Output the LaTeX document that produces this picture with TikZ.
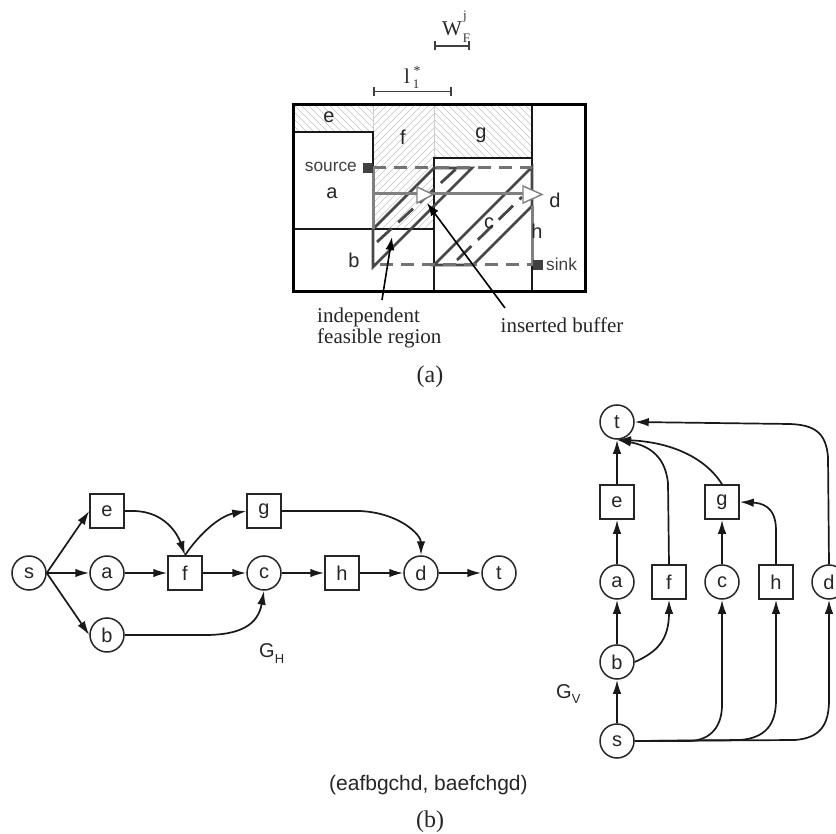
\documentclass[tikz,border=0pt]{standalone}
\usepackage{fontspec}
\setmainfont{Liberation Serif}
\setsansfont{Liberation Sans}
\usetikzlibrary{arrows.meta}
\tikzset{
  x=1pt,y=-1pt,
  lab/.style={inner sep=0pt,font=\sffamily\fontsize{20}{20}\selectfont,text=black!85},
  smalllab/.style={lab,font=\sffamily\fontsize{17.3}{17.3}\selectfont,text=black!75},
  rlab/.style={inner sep=0pt,font=\fontsize{21}{21}\selectfont,text=black!85},
  script/.style={inner sep=0pt,font=\fontsize{13}{13}\selectfont,text=black!80},
  vert/.style={draw=black!85,line width=1.5pt,fill=white,font=\sffamily\fontsize{20}{20}\selectfont,inner sep=0pt,text=black!85},
  circ/.style={vert,circle,minimum size=34pt},
  squ/.style={vert,rectangle,minimum size=34pt},
  edge/.style={draw=black!90,line width=1.7pt,-{Latex[length=14pt,width=8.5pt]}},
  wall/.style={draw=black!90,line width=1.4pt},
  hatch/.style={draw=black!24,line width=.6pt},
  pathdash/.style={draw=black!55,line width=3pt,dash pattern=on 13pt off 8pt},
  grayline/.style={draw=black!50,line width=3pt},
  dia/.style={draw=black!72,line width=2.8pt},
  diadash/.style={draw=black!72,line width=2.8pt,dash pattern=on 20pt off 9pt},
  dim/.style={draw=black!75,line width=1.7pt,{Bar[width=9pt]}-{Bar[width=9pt]}},
  tri/.style={draw=black!50,fill=white,line width=1.4pt},
  pin/.style={draw=black,line width=1.6pt,-{Latex[length=13pt,width=9pt]}},
  term/.style={fill=black!75,minimum size=10pt,inner sep=0pt},
}
\begin{document}
\begin{tikzpicture}
\useasboundingbox (0,0) rectangle (836,834);
% hatching
\begin{scope}
  \clip (293,105) rectangle (373,132);
  \foreach \k in {0,7,...,133} \draw[hatch] (293+\k-27,105) -- (293+\k,132);
\end{scope}
\begin{scope}
  \clip (373,105) rectangle (434,229);
  \foreach \k in {0,7,...,189} \draw[hatch] (373+\k,105) -- (373+\k-124,229);
\end{scope}
\begin{scope}
  \clip (434,105) rectangle (532,158);
  \foreach \k in {-56,-49,...,105} \draw[hatch] (434+\k,105) -- (434+\k+53,158);
\end{scope}
\draw[draw=black!20,line width=1pt] (373,105) -- (373,132) (434,105) -- (434,158);
% walls
\draw[wall] (293,132) -- (373,132) -- (373,229);
\draw[wall] (293,229) -- (434,229);
\draw[wall] (434,292) -- (434,158) -- (532,158);
\draw[wall] (532,105) -- (532,292);
% feasible regions
\draw[dia] (434,168) -- (373,229) -- (373,267) -- (472,168) -- cycle;
\draw[dia] (532,167) -- (434,265) -- (473,265) -- (532,206) -- cycle;
\draw[diadash] (377,242) -- (457,168);
\draw[diadash] (457,260) -- (522,197);
% route
\draw[pathdash] (373,167.5) -- (532,167.5);
\draw[pathdash] (380,265) -- (533,265);
\draw[grayline] (373,167.5) -- (373,229);
\draw[grayline] (532,206) -- (532,265);
\draw[grayline] (373,193.5) -- (525,193.5);
\draw[tri] (417,187) -- (433,194.5) -- (417,203) -- cycle;
\draw[tri] (523,186) -- (542,194.5) -- (523,203) -- cycle;
\node[term] (src) at (367.5,168) {};
\node[term] (snk) at (537.5,265) {};
\draw[draw=black,line width=3pt] (293,105) rectangle (585,292);
% labels of panel a
\node[lab] (le) at (329,117) {e};
\node[lab] (lf) at (403,137) {f};
\node[lab] (lg) at (481,135) {g};
\node[lab] (la) at (332,193) {a};
\node[lab] (lb) at (354,260) {b};
\node[lab] (lc) at (489,223) {c};
\node[lab] (ld) at (555,200) {d};
\node[lab] (lh) at (537,231) {h};
\node[smalllab,anchor=east] (lsrc) at (357,167) {source};
\node[smalllab,anchor=west] (lsnk) at (546,264) {sink};
% dimensions
\coordinate (w1) at (434,46); \coordinate (w2) at (470,46);
\draw[dim] (w1) -- (w2);
\coordinate (l1) at (373,91.5); \coordinate (l2) at (452,91.5);
\draw[dim] (l1) -- (l2);
\node[rlab,anchor=base] (wl) at (452,36) {W};
\node[script] (wsub) at (466.5,38) {F};
\node[script] (wsup) at (465,17) {j};
\node[rlab,anchor=base] (ll) at (407,84) {l};
\node[script,font=\fontsize{14}{14}\selectfont] (lsup) at (417,71) {*};
\node[script] (lsub) at (416,84.5) {1};
% callouts
\node[rlab,anchor=base west] (ifr) at (317,323) {independent};
\node[rlab,anchor=base west] (ifr2) at (317,344) {feasible region};
\node[rlab,anchor=base west] (ib) at (500.5,333) {inserted buffer};
\coordinate (ifrtip) at (392,237);
\coordinate (ibtip) at (427,203);
\coordinate (ifrtail) at (382,300);
\coordinate (ibtail) at (505,308);
\draw[pin] (ifrtail) -- (ifrtip);
\draw[pin] (ibtail) -- (ibtip);
\node[rlab,font=\fontsize{24}{24}\selectfont] (capa) at (430,377) {(a)};
% G_H
\node[circ] (hs) at (29,573) {s};
\node[circ] (ha) at (107,573) {a};
\node[squ]  (hf) at (185,573) {f};
\node[circ] (hc) at (264,573) {c};
\node[squ]  (hh) at (342,573) {h};
\node[circ] (hd) at (421,573) {d};
\node[circ] (ht) at (499,573) {t};
\node[squ]  (he) at (107,511) {e};
\node[squ]  (hg) at (264,511) {g};
\node[circ] (hb) at (107,635) {b};
\draw[edge] (hs.east) -- (he.west);
\draw[edge] (hs.east) -- (ha.west);
\draw[edge] (hs.east) -- (hb.west);
\draw[edge] (ha) -- (hf);
\draw[edge] (hf) -- (hc);
\draw[edge] (hc) -- (hh);
\draw[edge] (hh) -- (hd);
\draw[edge] (hd) -- (ht);
\draw[edge] (he.east) -- (133,511) .. controls (165,511) and (178,535) .. (hf.north);
\draw[edge] (hf.north) .. controls (200,533) and (220,516) .. (hg.west);
\draw[edge] (hg.east) -- (360,511) .. controls (400,513) and (421,535) .. (hd.north);
\draw[edge] (hb.east) -- (205,635) .. controls (240,635) and (258,625) .. (hc.south);
\node[lab,anchor=base west] (gh) at (259,657) {G\raisebox{-6pt}{\fontsize{13}{13}\selectfont H}};
% G_V
\node[circ] (vt) at (617,422) {t};
\node[squ]  (ve) at (617,502) {e};
\node[circ] (va) at (617,582) {a};
\node[circ] (vb) at (617,662) {b};
\node[circ] (vs) at (617,741) {s};
\node[squ]  (vf) at (669,582) {f};
\node[circ] (vc) at (722,582) {c};
\node[squ]  (vg) at (722,502) {g};
\node[squ]  (vh) at (776,582) {h};
\node[circ] (vd) at (829,582) {d};
\draw[edge] (vs) -- (vb);
\draw[edge] (vb) -- (va);
\draw[edge] (va) -- (ve);
\draw[edge] (ve) -- (vt);
\draw[edge] (vc) -- (vg);
\draw[edge] (vb.east) .. controls (657,652) and (669,640) .. (vf.south);
\draw[edge] (vf.north) -- (668,483) .. controls (665,453) and (645,445) .. (vt.south);
\draw[edge] (vg.north) .. controls (705,457) and (670,442) .. (vt.south);
\draw[edge] (vh.north) -- (776,530) .. controls (776,505) and (760,503) .. (vg.east);
\draw[edge] (vd.north) -- (828,457) .. controls (826,433) and (815,425) .. (790,424) -- (vt.east);
\draw[edge] (vs.east) -- (690,741) .. controls (712,740) and (722,725) .. (722,705) -- (vc.south);
\draw[edge] (vs.east) -- (740,740) .. controls (765,738) and (776,725) .. (776,700) -- (vh.south);
\draw[edge] (vs.east) -- (795,740) .. controls (820,738) and (829,725) .. (829,700) -- (vd.south);
\node[lab,anchor=base west] (gv) at (556,698) {G\raisebox{-5pt}{\fontsize{13}{13}\selectfont V}};
\node[lab,font=\sffamily\fontsize{21}{21}\selectfont,anchor=west] (seq) at (329,785) {(eafbgchd, baefchgd)};
\node[rlab,font=\fontsize{24}{24}\selectfont] (capb) at (430,822) {(b)};
\end{tikzpicture}
\end{document}
